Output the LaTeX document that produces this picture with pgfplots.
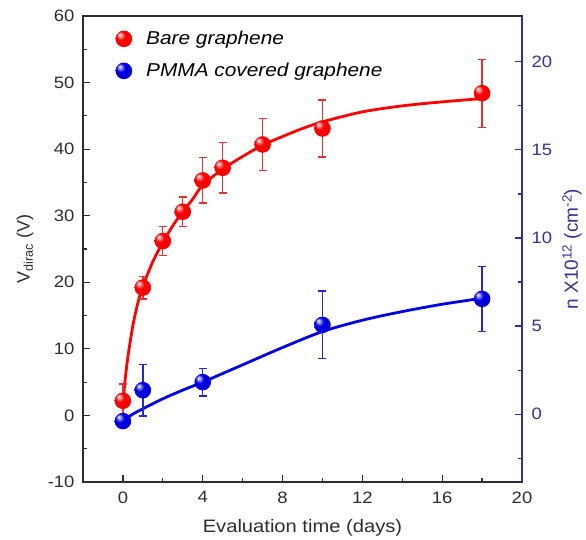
\documentclass[border=0pt]{standalone}
\usepackage{fontspec}
\setmainfont[FakeStretch=1.12]{Liberation Sans}
\newfontfamily\rotfont{Liberation Sans}
\usepackage{pgfplots}
\pgfplotsset{compat=1.18}
\definecolor{myred}{RGB}{255,0,0}
\definecolor{myblue}{RGB}{0,0,225}
\definecolor{errred}{RGB}{225,50,50}
\definecolor{errblue}{RGB}{40,40,200}
\definecolor{axblue}{RGB}{50,50,150}
\definecolor{axgray}{RGB}{45,45,45}
\pgfdeclareradialshading{redballsh}{\pgfqpoint{-13bp}{13bp}}{color(0bp)=(white); color(5bp)=(myred!40!white); color(13bp)=(myred); color(32bp)=(myred!95!black); color(42bp)=(myred!85!black); color(50bp)=(myred!70!black)}
\pgfdeclareradialshading{blueballsh}{\pgfqpoint{-13bp}{13bp}}{color(0bp)=(white); color(5bp)=(myblue!40!white); color(13bp)=(myblue); color(32bp)=(myblue!95!black); color(42bp)=(myblue!85!black); color(50bp)=(myblue!70!black)}
\pgfdeclareplotmark{redball}{\pgfpathcircle{\pgfpointorigin}{\pgfplotmarksize}\pgfshadepath{redballsh}{0}\pgfusepath{discard}}
\pgfdeclareplotmark{blueball}{\pgfpathcircle{\pgfpointorigin}{\pgfplotmarksize}\pgfshadepath{blueballsh}{0}\pgfusepath{discard}}
\begin{document}
\begin{tikzpicture}
\begin{axis}[name=ax1, scale only axis, width=439pt, height=466pt,
  xmin=-2, xmax=20, ymin=-10, ymax=60,
  xtick={0,4,...,20}, minor xtick={2,6,...,18},
  ytick={-10,0,...,60}, minor ytick={-5,5,...,55},
  xtick pos=bottom, ytick pos=left, tick align=inside,
  major tick length=7pt, minor tick length=4pt,
  axis line style={axgray, line width=1.3pt},
  every tick/.style={axgray, line width=1.2pt},
  tick label style={font=\fontsize{16.5}{16.5}\selectfont, text=axgray},
  yticklabel style={xshift=-5pt},
  xticklabel style={yshift=-6pt},
  /pgf/number format/assume math mode=true,
  xlabel={Evaluation time (days)},
  xlabel style={font=\fontsize{18}{18}\selectfont, text=axgray, yshift=-9pt},
  ylabel={\rotfont V\textsubscript{dirac} (V)},
  ylabel style={font=\fontsize{18}{18}\selectfont, text=axgray, at={(axis description cs:-0.132,0.5)}, anchor=center},
  legend style={at={(0.067,0.976)}, anchor=north west, draw=none, fill=none,
    font=\itshape\fontsize{18.6}{18.6}\selectfont, row sep=13pt,
    /tikz/every odd column/.append style={column sep=12pt}},
  legend cell align=left,
]
\addplot[myred, line width=2.8pt, smooth, forget plot] coordinates {
(0.02,2.2) (0.1,5) (0.25,8.8) (0.5,13.5) (0.75,16.9) (1,19.4) (1.5,23.1) (2,26.0) (2.5,28.5) (3,30.6) (3.5,32.5) (4,34.6) (5,37.0) (6,38.9) (7,40.6) (8,41.9) (9,43.1) (10,44.1) (12,45.6) (14,46.5) (16,47.1) (18,47.6)};
\addplot[myblue, line width=2.8pt, smooth, forget plot] coordinates {
(0,-0.8) (0.5,0.2) (1,1.0) (2,2.5) (3,3.8) (4,5.0) (5,6.3) (6,7.6) (8,10.2) (10,12.6) (12,14.3) (14,15.6) (16,16.7) (18,17.6)};
\addplot[only marks, mark=redball, mark size=8.3pt,
  error bars/.cd, y dir=both, y explicit,
  error bar style={errred, line width=1.3pt},
  error mark options={rotate=90, errred, mark size=4pt, line width=1.3pt}]
coordinates {
(0,2.2) +- (0,2.5)
(1,19.2) +- (0,1.7)
(2,26.2) +- (0,2.2)
(3,30.6) +- (0,2.2)
(4,35.3) +- (0,3.4)
(5,37.2) +- (0,3.8)
(7,40.7) +- (0,3.9)
(10,43.1) +- (0,4.3)
(18,48.4) +- (0,5.1)};
\addlegendentry{Bare graphene}
\addplot[only marks, mark=blueball, mark size=8.3pt,
  error bars/.cd, y dir=both, y explicit,
  error bar style={errblue, line width=1.3pt},
  error mark options={rotate=90, errblue, mark size=4pt, line width=1.3pt}]
coordinates {
(0,-0.85) +- (0,0.5)
(1,3.8) +- (0,3.9)
(4,5.0) +- (0,2.1)
(10,13.6) +- (0,5.1)
(18,17.5) +- (0,4.9)};
\addlegendentry{PMMA covered graphene}
\end{axis}
\begin{axis}[scale only axis, width=439pt, height=466pt,
  xmin=-2, xmax=20, ymin=-3.85, ymax=22.6,
  axis x line=none, axis y line*=right,
  ytick={0,5,...,20}, minor ytick={-2.5,2.5,...,17.5},
  tick align=inside,
  major tick length=7pt, minor tick length=4pt,
  y axis line style={axblue, line width=1.3pt},
  every tick/.style={axblue, line width=1.2pt},
  tick label style={font=\fontsize{16.5}{16.5}\selectfont, text=axblue, xshift=6pt},
  /pgf/number format/assume math mode=true,
  ylabel={\rotfont n X10\textsuperscript{12} (cm\textsuperscript{-2})},
  ylabel style={font=\fontsize{19}{19}\selectfont, text=axblue, at={(axis description cs:1.114,0.5)}, anchor=center, rotate=0},
]
\end{axis}
\pgfresetboundingbox
\path ([xshift=-83pt,yshift=-58pt]ax1.south west) rectangle ([xshift=64pt,yshift=16pt]ax1.north east);
\end{tikzpicture}
\end{document}
